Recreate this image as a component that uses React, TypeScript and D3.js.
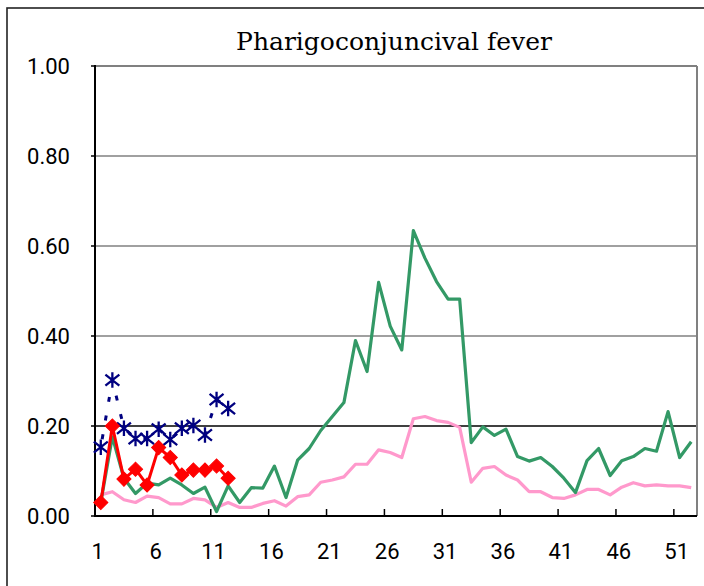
import React from "react";
import * as d3 from "d3";

// chart values
const weeks = d3.range(1, 53);
const tickWeeks = [1, 6, 11, 16, 21, 26, 31, 36, 41, 46, 51];
const yTicks = [0, 0.2, 0.4, 0.6, 0.8, 1.0];

const thisYear = [0.03, 0.2, 0.082, 0.104, 0.069, 0.152, 0.13, 0.091, 0.102, 0.102, 0.111, 0.084];
const lastYearStars = [0.153, 0.302, 0.195, 0.172, 0.172, 0.193, 0.17, 0.195, 0.201, 0.18, 0.259, 0.239];
const prevSeason = [
  0.03, 0.176, 0.084, 0.05, 0.073, 0.069, 0.084, 0.069, 0.05, 0.064,
  0.01, 0.067, 0.03, 0.063, 0.062, 0.111, 0.041, 0.124, 0.15, 0.19,
  0.221, 0.252, 0.39, 0.321, 0.519, 0.422, 0.369, 0.634, 0.573, 0.521,
  0.482, 0.482, 0.163, 0.198, 0.179, 0.193, 0.132, 0.122, 0.13, 0.11,
  0.084, 0.052, 0.123, 0.15, 0.09, 0.123, 0.132, 0.15, 0.144, 0.232,
  0.13, 0.165,
];
const average = [
  0.047, 0.054, 0.036, 0.03, 0.044, 0.041, 0.027, 0.027, 0.039, 0.036,
  0.019, 0.03, 0.019, 0.019, 0.028, 0.034, 0.022, 0.043, 0.047, 0.075,
  0.08, 0.087, 0.115, 0.115, 0.147, 0.141, 0.13, 0.216, 0.221, 0.212,
  0.208, 0.197, 0.075, 0.106, 0.11, 0.091, 0.08, 0.054, 0.054, 0.041,
  0.039, 0.047, 0.059, 0.059, 0.047, 0.064, 0.074, 0.067, 0.069, 0.067,
  0.067, 0.063,
];

const W = 704;
const H = 586;
const M = { left: 95, right: 697, top: 66, bottom: 516 };
const AXIS_FONT = "Roboto, 'DejaVu Sans', sans-serif";

// excel style star marker: an X plus a vertical bar
const starSymbol = {
  draw(ctx: any, size: number) {
    const r = Math.sqrt(size) / 2;
    ctx.moveTo(0, -r);
    ctx.lineTo(0, r);
    ctx.moveTo(-r * 0.9, -r * 0.72);
    ctx.lineTo(r * 0.9, r * 0.72);
    ctx.moveTo(-r * 0.9, r * 0.72);
    ctx.lineTo(r * 0.9, -r * 0.72);
  },
};

export default function App() {
  const x = d3.scaleBand<number>().domain(weeks).range([M.left, M.right]);
  const cx = (w: number) => (x(w) as number) + x.bandwidth() / 2;
  const y = d3.scaleLinear().domain([0, 1]).range([M.bottom, M.top]);

  const line = d3
    .line<number>()
    .x((_, i) => cx(weeks[i]))
    .y((d) => y(d));

  const diamond = d3.symbol(d3.symbolSquare, 100)();
  const star = d3.symbol(starSymbol as any, 240)();

  return (
    <svg
      width={W}
      height={H}
      style={{ position: "absolute", left: 0, top: 0, background: "#fff" }}
    >
      {/* outer chart frame */}
      <rect x={7} y={8} width={720} height={620} fill="none" stroke="#222" strokeWidth={1.6} />

      <text
        x={394}
        y={50}
        textAnchor="middle"
        fontFamily="'DejaVu Serif', 'Liberation Serif', serif"
        fontSize={25}
        fill="#000"
      >
        Pharigoconjuncival fever
      </text>

      {/* grid */}
      {yTicks
        .filter((t) => t > 0)
        .map((t) => (
          <line
            key={t}
            x1={M.left}
            x2={M.right}
            y1={y(t)}
            y2={y(t)}
            stroke={t === 0.2 ? "#000" : "#808080"}
            strokeWidth={t === 1 ? 2 : 1.3}
          />
        ))}
      <line x1={M.right} x2={M.right} y1={M.top} y2={M.bottom} stroke="#808080" strokeWidth={2} />

      {/* y axis */}
      <line x1={M.left} x2={M.left} y1={M.top - 1} y2={M.bottom + 1} stroke="#000" strokeWidth={2} />
      {yTicks.map((t) => (
        <g key={t}>
          <line x1={M.left - 4} x2={M.left} y1={y(t)} y2={y(t)} stroke="#000" strokeWidth={1.5} />
          <text
            x={70}
            y={y(t)}
            dy="0.36em"
            textAnchor="end"
            fontFamily={AXIS_FONT}
            fontSize={22}
            fill="#000"
          >
            {t.toFixed(2)}
          </text>
        </g>
      ))}

      {/* x axis */}
      <line x1={M.left - 1} x2={M.right} y1={M.bottom} y2={M.bottom} stroke="#000" strokeWidth={2} />
      {tickWeeks
        .filter((w) => w > 1)
        .map((w) => (
          <line
            key={w}
            x1={x(w) as number}
            x2={x(w) as number}
            y1={M.bottom}
            y2={M.bottom - 7}
            stroke="#000"
            strokeWidth={1.5}
          />
        ))}
      {tickWeeks.map((w) => (
        <text
          key={w}
          x={cx(w)}
          y={559}
          dx={-3}
          textAnchor="middle"
          fontFamily={AXIS_FONT}
          fontSize={22}
          fill="#000"
        >
          {w}
        </text>
      ))}

      {/* series */}
      <path d={line(average) || ""} fill="none" stroke="#FF99CC" strokeWidth={3.2} strokeLinejoin="round" />
      <path d={line(prevSeason) || ""} fill="none" stroke="#339966" strokeWidth={3.2} strokeLinejoin="round" />

      <path
        d={line(lastYearStars) || ""}
        fill="none"
        stroke="#000080"
        strokeWidth={3}
        strokeDasharray="5 14"
        strokeDashoffset={-8}
      />
      {lastYearStars.map((v, i) => (
        <path
          key={i}
          d={star || ""}
          transform={`translate(${cx(weeks[i])},${y(v)})`}
          fill="none"
          stroke="#000080"
          strokeWidth={2.3}
        />
      ))}

      <path d={line(thisYear) || ""} fill="none" stroke="#FF0000" strokeWidth={3} strokeLinejoin="round" />
      {thisYear.map((v, i) => (
        <path
          key={i}
          d={diamond || ""}
          transform={`translate(${cx(weeks[i])},${y(v)}) rotate(45)`}
          fill="#FF0000"
          stroke="#FF0000"
          strokeWidth={1}
        />
      ))}
    </svg>
  );
}
